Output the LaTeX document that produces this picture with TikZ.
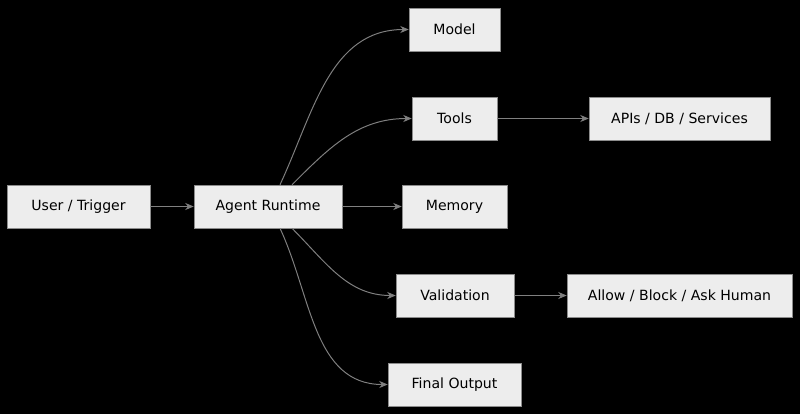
\documentclass[tikz,border=0pt]{standalone}
\usepackage{fontspec}
\setmainfont{DejaVu Sans}
\usetikzlibrary{arrows.meta}
\begin{document}
\begin{tikzpicture}[x=0.025cm,y=-0.025cm,
        box/.style={rectangle,draw=black!45,fill=black!7,text=black,minimum height=1.075cm,inner sep=0pt,font=\fontsize{10}{12}\selectfont},
        link/.style={draw=black!50,line width=0.7pt,-{Stealth[length=6pt,width=5pt]}}
    ]
        \fill[black] (0,0) rectangle (800,414);

        \node[box,minimum width=3.575cm] (user)    at (78.5, 206.5) {User / Trigger};
        \node[box,minimum width=3.7cm]   (agent)   at (268, 206.5)  {Agent Runtime};

        \node[box,minimum width=2.275cm] (model)   at (454.5, 29.5)  {Model};
        \node[box,minimum width=2.125cm] (tools)   at (454.5, 118.5) {Tools};
        \node[box,minimum width=2.625cm] (memory)  at (454.5, 206.5) {Memory};
        \node[box,minimum width=2.95cm]  (valid)   at (455, 295.5)   {Validation};
        \node[box,minimum width=3.325cm] (final)   at (454.5, 384.5) {Final Output};

        \node[box,minimum width=4.525cm] (apis)    at (679.5, 118.5) {APIs / DB / Services};
        \node[box,minimum width=5.625cm] (allow)   at (679.5, 295.5) {Allow / Block / Ask Human};

        \draw[link] (user) -- (agent);
        \draw[link] (agent) -- (memory);
        \draw[link] ([xshift=0.3cm]agent.north) to[out=65,in=180] (model);
        \draw[link] ([xshift=0.6cm]agent.north) to[out=45,in=180] (tools);
        \draw[link] ([xshift=0.6cm]agent.south) to[out=-45,in=180] (valid);
        \draw[link] ([xshift=0.3cm]agent.south) to[out=-65,in=180] (final);
        \draw[link] (tools) -- (apis);
        \draw[link] (valid) -- (allow);
    \end{tikzpicture}
\end{document}
